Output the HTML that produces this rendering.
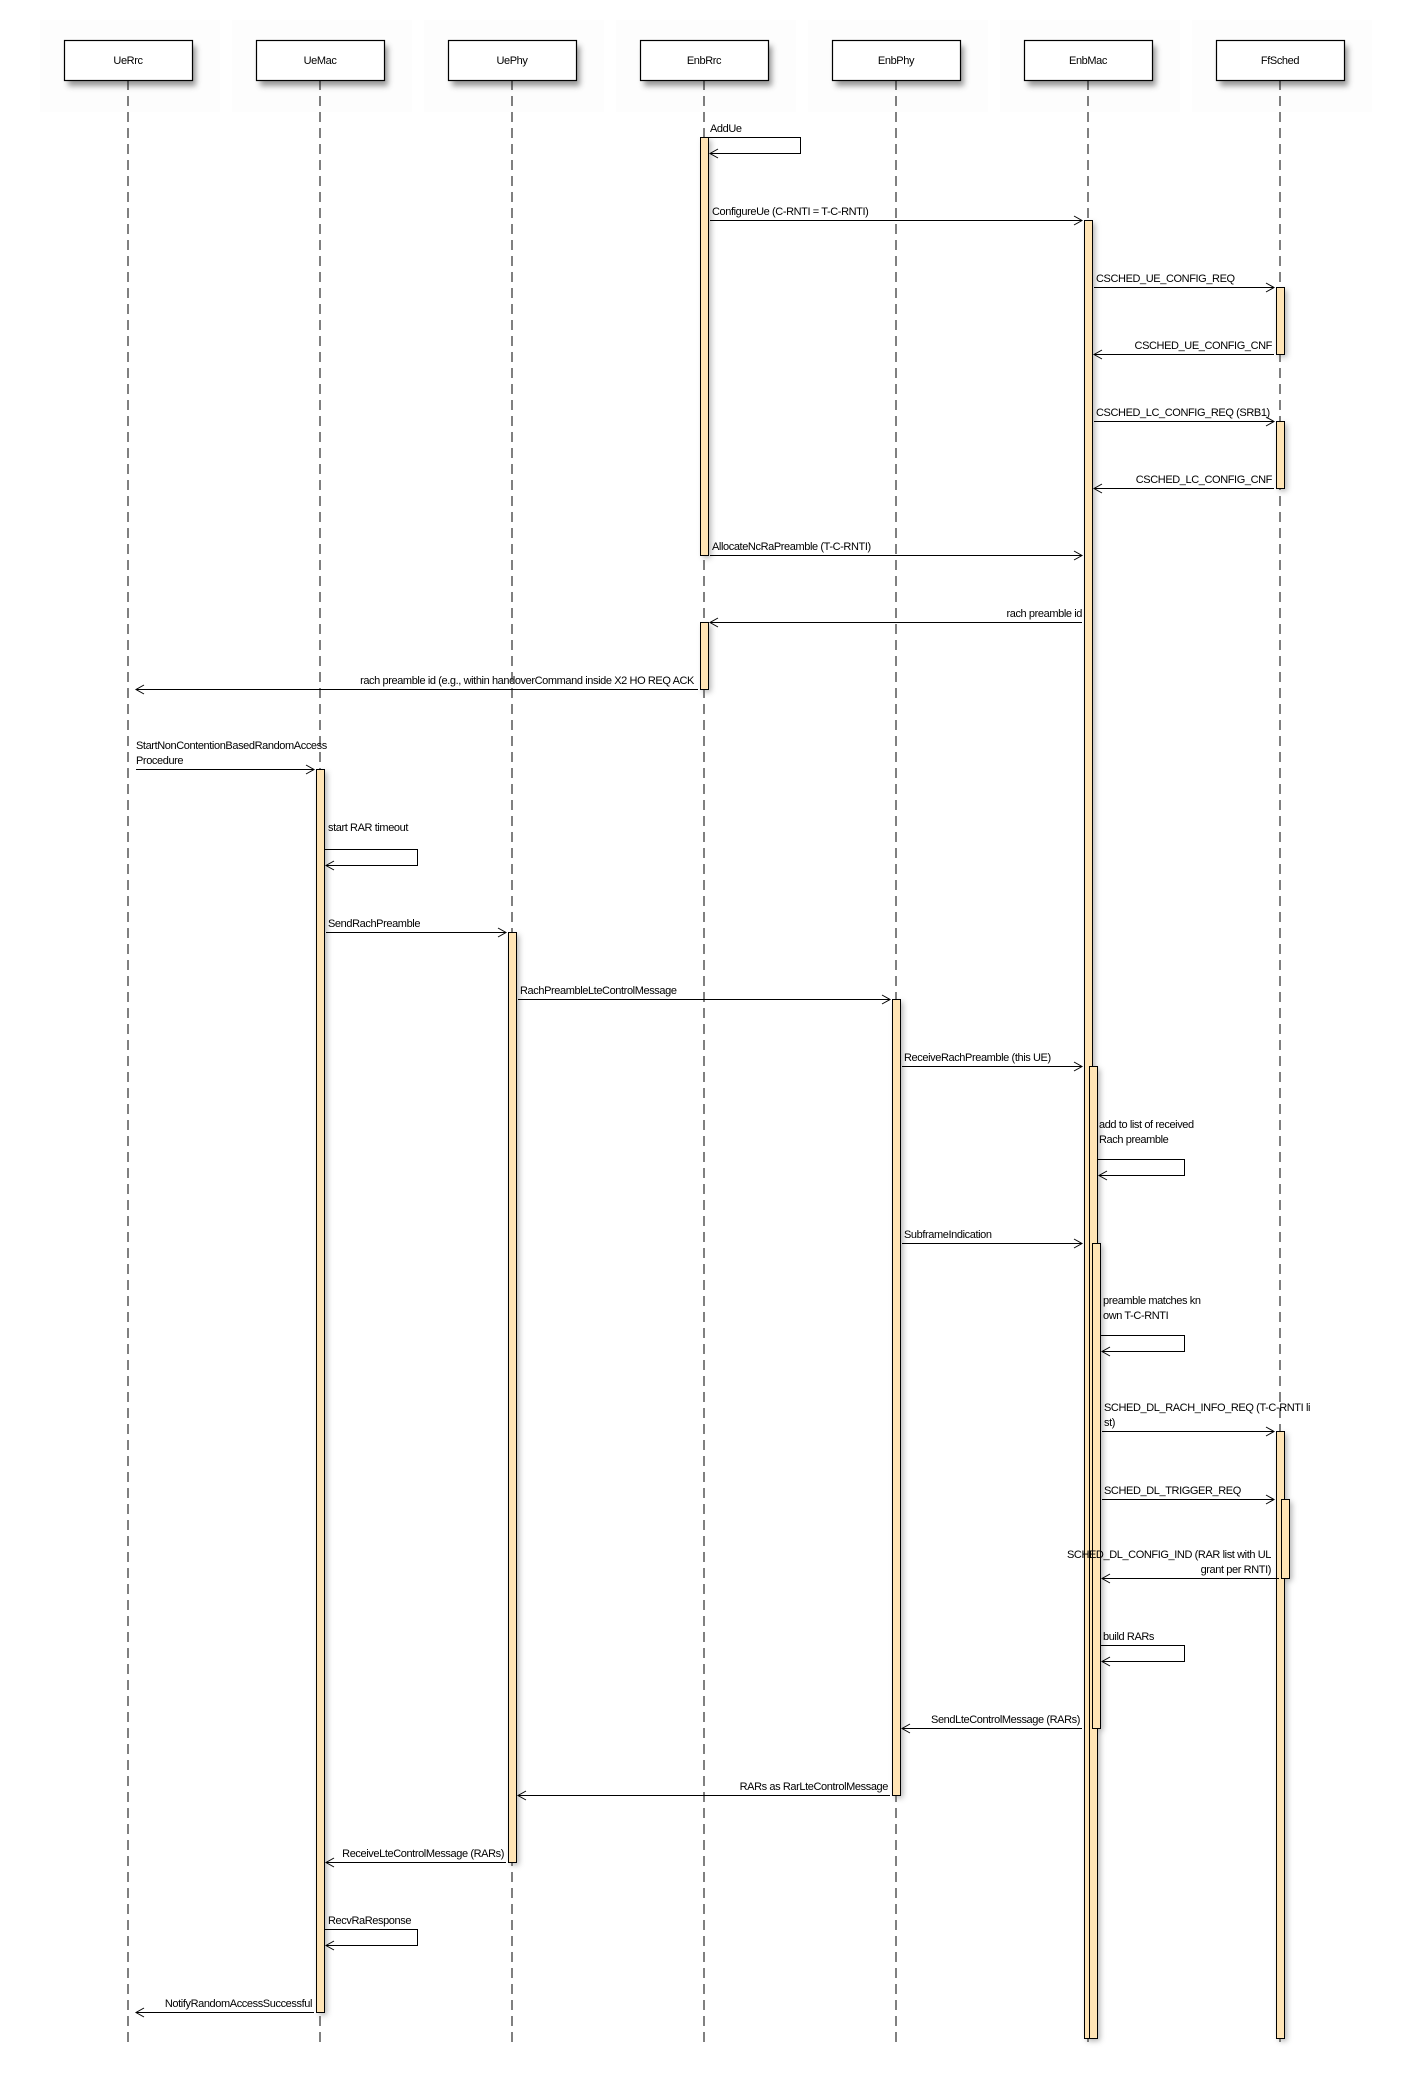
<!DOCTYPE html>
<html><head><meta charset="utf-8"><style>
html,body{margin:0;padding:0;background:#fff;}
svg{display:block;}
text{font-family:"Liberation Sans",sans-serif;font-size:11px;fill:#000;letter-spacing:-0.4px;}
.ll{stroke:#000;stroke-width:1;stroke-dasharray:10,6;fill:none;}
.bar{fill:#ffe4b5;stroke:#000;stroke-width:1;}
.ln{stroke:#000;stroke-width:1;fill:none;}
</style></head><body>
<svg width="1408" height="2086" viewBox="0 0 1408 2086" xmlns="http://www.w3.org/2000/svg">
<defs>
<filter id="sh" x="-50%" y="-50%" width="200%" height="200%"><feGaussianBlur stdDeviation="3"/></filter>
</defs>
<g fill="#fdfdfd">
<rect x="40" y="20" width="180" height="92"/><rect x="232" y="20" width="180" height="92"/><rect x="424" y="20" width="180" height="92"/><rect x="616" y="20" width="180" height="92"/><rect x="808" y="20" width="180" height="92"/><rect x="1000" y="20" width="180" height="92"/><rect x="1192" y="20" width="180" height="92"/>
</g>
<g fill="#555" opacity="0.6" filter="url(#sh)">
<rect x="68" y="46" width="128" height="40"/><rect x="260" y="46" width="128" height="40"/><rect x="452" y="46" width="128" height="40"/><rect x="644" y="46" width="128" height="40"/><rect x="836" y="46" width="128" height="40"/><rect x="1028" y="46" width="128" height="40"/><rect x="1220" y="46" width="128" height="40"/>
</g>
<g>
<line class="ll" x1="128" y1="80" x2="128" y2="2043"/>
<line class="ll" x1="320" y1="80" x2="320" y2="2043"/>
<line class="ll" x1="512" y1="80" x2="512" y2="2043"/>
<line class="ll" x1="704" y1="80" x2="704" y2="2043"/>
<line class="ll" x1="896" y1="80" x2="896" y2="2043"/>
<line class="ll" x1="1088" y1="80" x2="1088" y2="2043"/>
<line class="ll" x1="1280" y1="80" x2="1280" y2="2043"/>
</g>
<g fill="#fff" stroke="#000" stroke-width="1.2">
<rect x="64.5" y="40.5" width="128" height="40"/><rect x="256.5" y="40.5" width="128" height="40"/><rect x="448.5" y="40.5" width="128" height="40"/><rect x="640.5" y="40.5" width="128" height="40"/><rect x="832.5" y="40.5" width="128" height="40"/><rect x="1024.5" y="40.5" width="128" height="40"/><rect x="1216.5" y="40.5" width="128" height="40"/>
</g>
<g text-anchor="middle">
<text x="128" y="64">UeRrc</text><text x="320" y="64">UeMac</text><text x="512" y="64">UePhy</text><text x="704" y="64">EnbRrc</text><text x="896" y="64">EnbPhy</text><text x="1088" y="64">EnbMac</text><text x="1280" y="64">FfSched</text>
</g>
<g fill="#666" opacity="0.5" filter="url(#sh)">
<rect x="703" y="140" width="8" height="418"/><rect x="703" y="625" width="8" height="67"/>
<rect x="1087" y="223" width="8" height="1818"/><rect x="1092" y="1069" width="8" height="972"/><rect x="1095" y="1246" width="8" height="485"/>
<rect x="1279" y="290" width="8" height="67"/><rect x="1279" y="424" width="8" height="67"/><rect x="1279" y="1434" width="8" height="607"/><rect x="1284" y="1502" width="8" height="79"/>
<rect x="319" y="772" width="8" height="1243"/><rect x="511" y="935" width="8" height="930"/><rect x="895" y="1002" width="8" height="796"/>
</g>
<g>
<rect class="bar" x="700.5" y="137.5" width="8" height="418"/>
<rect class="bar" x="700.5" y="622.5" width="8" height="67"/>
<rect class="bar" x="1084.5" y="220.5" width="8" height="1818"/>
<rect class="bar" x="1089.5" y="1066.5" width="8" height="972"/>
<rect class="bar" x="1092.5" y="1243.5" width="8" height="485"/>
<rect class="bar" x="1276.5" y="287.5" width="8" height="67"/>
<rect class="bar" x="1276.5" y="421.5" width="8" height="67"/>
<rect class="bar" x="1276.5" y="1431.5" width="8" height="607"/>
<rect class="bar" x="1281.5" y="1499.5" width="8" height="79"/>
<rect class="bar" x="316.5" y="769.5" width="8" height="1243"/>
<rect class="bar" x="508.5" y="932.5" width="8" height="930"/>
<rect class="bar" x="892.5" y="999.5" width="8" height="796"/>
</g>
<g class="ln">
<path d="M709 137.5H800.5V153.5H710M718 149L710 153.5L718 158"/>
<path d="M325 849.5H417.5V865.5H326M334 861L326 865.5L334 870"/>
<path d="M1098 1159.5H1184.5V1175.5H1099M1107 1171L1099 1175.5L1107 1180"/>
<path d="M1101 1335.5H1184.5V1351.5H1102M1110 1347L1102 1351.5L1110 1356"/>
<path d="M1101 1645.5H1184.5V1661.5H1102M1110 1657L1102 1661.5L1110 1666"/>
<path d="M325 1929.5H417.5V1945.5H326M334 1941L326 1945.5L334 1950"/>
<path d="M710 220.5H1082M1074 216L1082 220.5L1074 225"/>
<path d="M1094 287.5H1274M1266 283L1274 287.5L1266 292"/>
<path d="M1094 421.5H1274M1266 417L1274 421.5L1266 426"/>
<path d="M710 555.5H1082M1074 551L1082 555.5L1074 560"/>
<path d="M136 769.5H314M306 765L314 769.5L306 774"/>
<path d="M326 932.5H506M498 928L506 932.5L498 937"/>
<path d="M518 999.5H890M882 995L890 999.5L882 1004"/>
<path d="M902 1066.5H1082M1074 1062L1082 1066.5L1074 1071"/>
<path d="M902 1243.5H1082M1074 1239L1082 1243.5L1074 1248"/>
<path d="M1102 1431.5H1274M1266 1427L1274 1431.5L1266 1436"/>
<path d="M1102 1499.5H1274M1266 1495L1274 1499.5L1266 1504"/>
<path d="M1274 354.5H1094M1102 350L1094 354.5L1102 359"/>
<path d="M1274 488.5H1094M1102 484L1094 488.5L1102 493"/>
<path d="M1082 622.5H710M718 618L710 622.5L718 627"/>
<path d="M698 689.5H136M144 685L136 689.5L144 694"/>
<path d="M1279 1578.5H1102M1110 1574L1102 1578.5L1110 1583"/>
<path d="M1082 1728.5H902M910 1724L902 1728.5L910 1733"/>
<path d="M890 1795.5H518M526 1791L518 1795.5L526 1800"/>
<path d="M506 1862.5H326M334 1858L326 1862.5L334 1867"/>
<path d="M314 2012.5H136M144 2008L136 2012.5L144 2017"/>
</g>
<g>
<text x="710" y="132">AddUe</text>
<text x="712" y="215">ConfigureUe (C-RNTI = T-C-RNTI)</text>
<text x="1096" y="282">CSCHED_UE_CONFIG_REQ</text>
<text x="1096" y="416">CSCHED_LC_CONFIG_REQ (SRB1)</text>
<text x="712" y="550">AllocateNcRaPreamble (T-C-RNTI)</text>
<text x="136" y="749">StartNonContentionBasedRandomAccess</text>
<text x="136" y="764">Procedure</text>
<text x="328" y="831">start RAR timeout</text>
<text x="328" y="927">SendRachPreamble</text>
<text x="520" y="994">RachPreambleLteControlMessage</text>
<text x="904" y="1061">ReceiveRachPreamble (this UE)</text>
<text x="1099" y="1128">add to list of received</text>
<text x="1099" y="1143">Rach preamble</text>
<text x="904" y="1238">SubframeIndication</text>
<text x="1103" y="1304">preamble matches kn</text>
<text x="1103" y="1319">own T-C-RNTI</text>
<text x="1104" y="1411">SCHED_DL_RACH_INFO_REQ (T-C-RNTI li</text>
<text x="1104" y="1426">st)</text>
<text x="1104" y="1494">SCHED_DL_TRIGGER_REQ</text>
<text x="1103" y="1640">build RARs</text>
<text x="328" y="1924">RecvRaResponse</text>
</g>
<g text-anchor="end">
<text x="1272" y="349">CSCHED_UE_CONFIG_CNF</text>
<text x="1272" y="483">CSCHED_LC_CONFIG_CNF</text>
<text x="1082" y="617">rach preamble id</text>
<text x="694" y="684">rach preamble id (e.g., within handoverCommand inside X2 HO REQ ACK</text>
<text x="1271" y="1558">SCHED_DL_CONFIG_IND (RAR list with UL</text>
<text x="1271" y="1573">grant per RNTI)</text>
<text x="1080" y="1723">SendLteControlMessage (RARs)</text>
<text x="888" y="1790">RARs as RarLteControlMessage</text>
<text x="504" y="1857">ReceiveLteControlMessage (RARs)</text>
<text x="312" y="2007">NotifyRandomAccessSuccessful</text>
</g>
</svg>
</body></html>
